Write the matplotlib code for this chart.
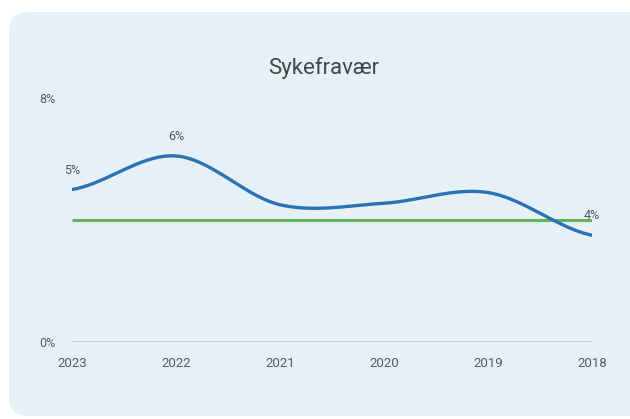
import numpy as np
import matplotlib
matplotlib.use("Agg")
import matplotlib.pyplot as plt
from matplotlib.patches import FancyBboxPatch

years = ["2023", "2022", "2021", "2020", "2019", "2018"]
sykefravaer = [5.0, 6.1, 4.5, 4.55, 4.9, 3.5]
target = [4.0, 4.0, 4.0, 4.0, 4.0, 4.0]
labelled = {0: "5%", 1: "6%", 5: "4%"}
yticks = [0, 8]
ytick_labels = ["0%", "8%"]
title = "Sykefravær"

plt.rcParams['font.family'] = ['Roboto', 'DejaVu Sans']

def smooth(y, n=40):
    y = np.asarray(y, float)
    x = np.arange(len(y))
    m = np.zeros_like(y)
    m[1:-1] = (y[2:] - y[:-2]) / 2
    m[0] = (y[1] - y[0]) * 0.5
    m[-1] = (y[-1] - y[-2]) * 0.5
    xs, ys = [], []
    for i in range(len(y) - 1):
        t = np.linspace(0, 1, n, endpoint=(i == len(y) - 2))
        h00 = 2*t**3 - 3*t**2 + 1
        h10 = t**3 - 2*t**2 + t
        h01 = -2*t**3 + 3*t**2
        h11 = t**3 - t**2
        xs.append(x[i] + t)
        ys.append(h00*y[i] + h10*m[i] + h01*y[i+1] + h11*m[i+1])
    return np.concatenate(xs), np.concatenate(ys)

W, H = 630, 419
fig = plt.figure(figsize=(W/100, H/100), dpi=100)
fig.patch.set_facecolor("white")

box = FancyBboxPatch((9/W, 3/H), (W + 20)/W - 9/W, (H - 12 - 3)/H,
                     boxstyle="round,pad=0,rounding_size=0.03",
                     transform=fig.transFigure, facecolor="#e6f1f7",
                     edgecolor="none", zorder=-5, mutation_aspect=W/H)
fig.patches.append(box)

left, right = 72/W, 592/W
bottom, top = 1 - 342/H, 1 - 98/H
ax = fig.add_axes([left, bottom, right - left, top - bottom])
ax.set_zorder(2)
ax.set_facecolor("none")
x = np.arange(len(years))
ax.set_xlim(0, len(years) - 1)
ax.set_ylim(0, 8)
for s in ax.spines.values():
    s.set_visible(False)

ax.axhline(0, color="#b9c6cf", lw=1.1, zorder=1)
ax.plot(x, target, color="#62b45c", lw=2.2, zorder=2, solid_capstyle="butt")
sx, sy = smooth(sykefravaer)
ax.plot(sx, sy, color="#2b72b5", lw=2.4, zorder=3, solid_capstyle="round")

for i, lab in labelled.items():
    ax.annotate(lab, (x[i], sykefravaer[i]), xytext=(0, 14), textcoords="offset points",
                ha="center", va="center", fontsize=9, color="#555555", zorder=4,
                annotation_clip=False)

ax.set_xticks(x)
ax.set_xticklabels(years, fontsize=9.5, color="#5a5a5a")
ax.set_yticks(yticks)
ax.set_yticklabels(ytick_labels, fontsize=9, color="#5a5a5a")
ax.tick_params(axis="x", length=0, pad=11)
ax.tick_params(axis="y", length=0, pad=12)

fig.text(324/W, 1 - 68/H, title, ha="center", va="center", fontsize=16,
         color="#454545", zorder=3)

fig.savefig("out.png", dpi=100, facecolor="white")
